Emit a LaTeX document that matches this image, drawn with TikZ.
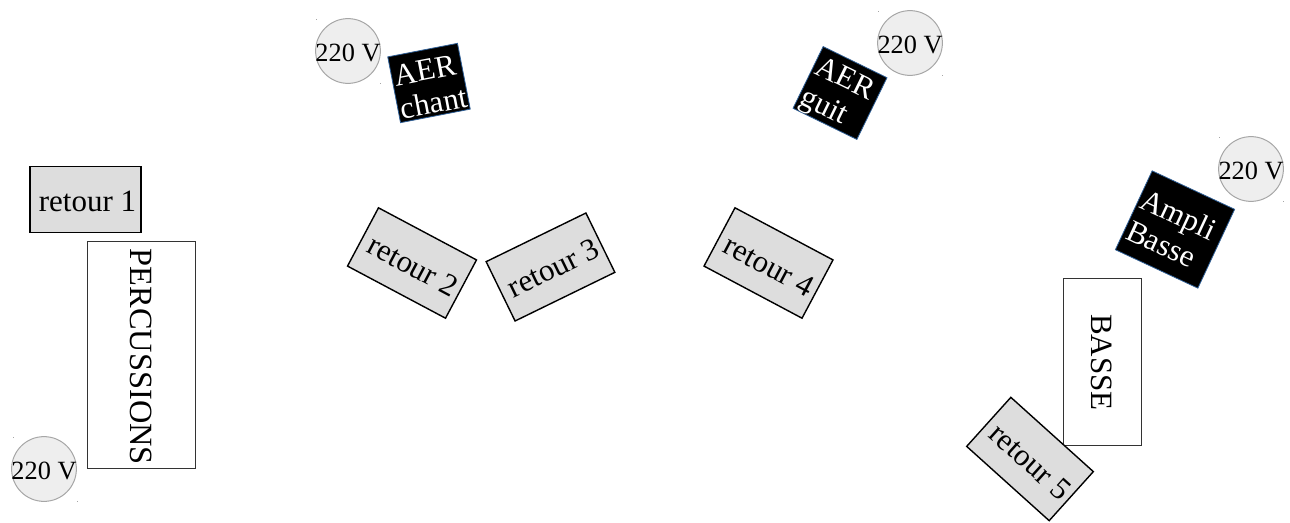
\documentclass[tikz,border=0pt]{standalone}
\usepackage{fontspec}
\setmainfont{Liberation Serif}
\definecolor{monfill}{HTML}{DDDDDD}
\definecolor{plugfill}{HTML}{EEEEEE}
\definecolor{plugline}{HTML}{A6A6A6}
\definecolor{ampline}{HTML}{2F5F96}
\newcommand{\nudged}[3]{\raisebox{#2}[0pt][0pt]{\hspace*{#1}#3}}
\tikzset{
 monbox/.style={draw=black,line width=1.4pt,fill=monfill,inner sep=0pt,minimum width=111pt,minimum height=66pt,font=\fontsize{31}{31}\selectfont,text=black},
 musbox/.style={draw=black!80,line width=1pt,fill=white,inner sep=0pt,text=black},
 ampbox/.style={draw=ampline,line width=0.8pt,fill=black,inner xsep=3pt,inner ysep=0pt,font=\fontsize{31}{31}\selectfont,text=white,align=left},
 plug/.style={circle,draw=plugline,line width=1pt,fill=plugfill,inner sep=0pt,minimum size=64pt,font=\fontsize{26.3}{26}\selectfont,text=black},
 speck/.style={fill=black!35,inner sep=0pt,minimum size=1pt,rectangle}
}
\begin{document}
\begin{tikzpicture}[x=1pt,y=-1pt]
\useasboundingbox (0,0) rectangle (1290,522);
% musicians
\node[musbox,font=\fontsize{32.4}{32}\selectfont,minimum width=227pt,minimum height=108pt,rotate=-90] (perc) at (141,354.5) {\nudged{5pt}{-10.5pt}{PERCUSSIONS}};
\node[musbox,font=\fontsize{31}{31}\selectfont,minimum width=167pt,minimum height=78pt,rotate=-90] (basse) at (1102,361.5) {\nudged{2pt}{-10.5pt}{BASSE}};
% monitors
\node[monbox] (r1) at (85.5,199.5) {\nudged{4pt}{-12pt}{retour 1}};
\node[monbox,rotate=-28] (r2) at (412,263) {\nudged{4pt}{-12pt}{retour 2}};
\node[monbox,rotate=26] (r3) at (550.5,267) {\nudged{4pt}{-12pt}{retour 3}};
\node[monbox,rotate=-28] (r4) at (768.5,263) {\nudged{4pt}{-12pt}{retour 4}};
\node[monbox,rotate=-42] (r5) at (1030,459) {\nudged{4pt}{-12pt}{retour 5}};
% amps
\node[ampbox,text width=65pt,minimum height=67pt,rotate=11] (aer1) at (429,83) {\rule{0pt}{28pt}AER\\[3pt]chant};
\node[ampbox,text width=65pt,minimum height=67pt,rotate=-26] (aer2) at (840,93) {\rule{0pt}{28pt}AER\\[3pt]guit};
\node[ampbox,text width=85pt,minimum height=87pt,rotate=-25] (ampli) at (1175,229.5) {\rule{0pt}{25pt}Ampli\\[3pt]Basse};
% power
\node[plug] (p1) at (348,51) {\nudged{0pt}{-10pt}{220 V}};
\node[plug] (p2) at (910,43) {\nudged{0pt}{-10pt}{220 V}};
\node[plug] (p3) at (1251,169) {\nudged{0pt}{-10pt}{220 V}};
\node[plug] (p4) at (44,469) {\nudged{0pt}{-10pt}{220 V}};
% handle specks
\node[speck] (s1a) at (316.5,19) {};
\node[speck] (s1b) at (380.5,83) {};
\node[speck] (s2a) at (878,11) {};
\node[speck] (s2b) at (942,75) {};
\node[speck] (s3a) at (1219,137) {};
\node[speck] (s3b) at (1283,201) {};
\node[speck] (s4a) at (13,437) {};
\node[speck] (s4b) at (77,501) {};
\end{tikzpicture}
\end{document}
